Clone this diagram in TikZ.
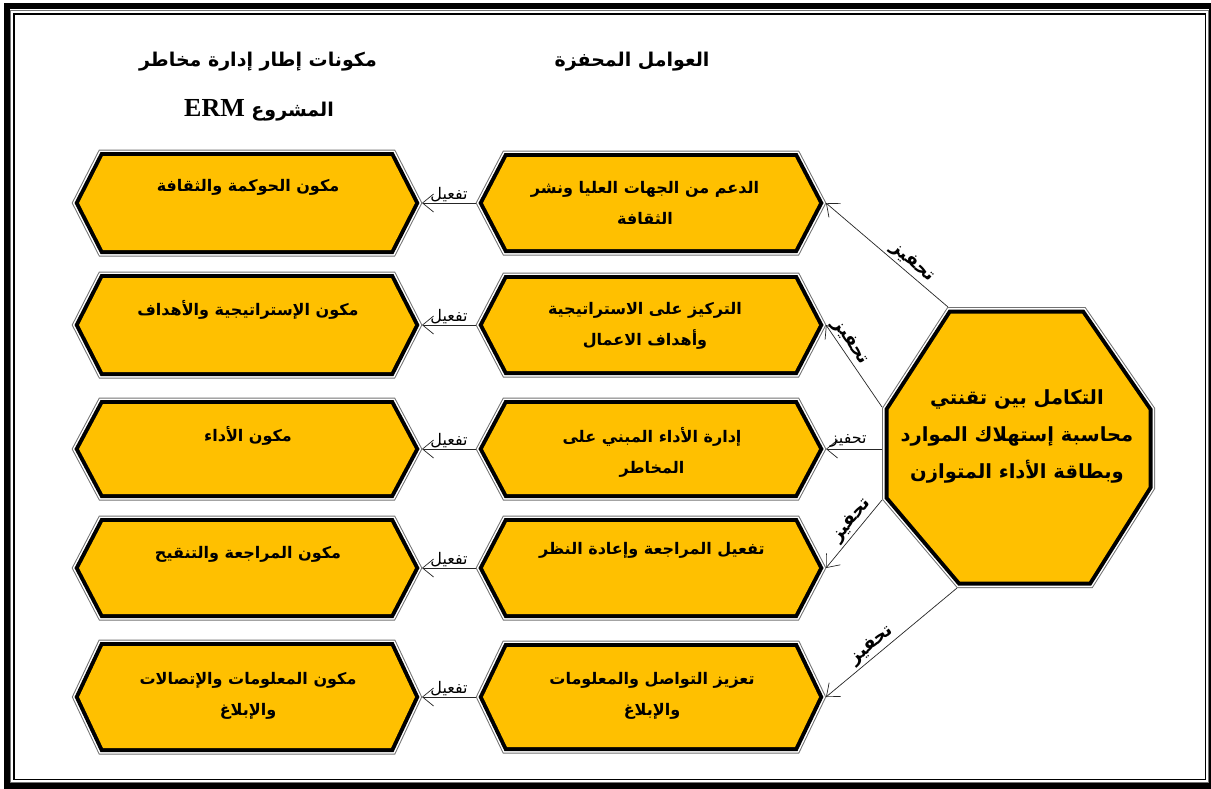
\documentclass[tikz,border=0pt]{standalone}
\usepackage{fontspec}
\usetikzlibrary{arrows.meta}
\TeXXeTstate=1
\newfontfamily\arabicfont[Script=Arabic]{DejaVu Sans}
\newfontfamily\latinfont{Liberation Serif}
\definecolor{gold}{RGB}{255,192,0}
\definecolor{rim}{RGB}{115,115,115}
\newcommand\artxt[1]{\beginR #1\endR}

% hexagon outline: centre x, centre y, half width to tip, half height, slant
\newcommand\hexpath[5]{(#1-#3,#2) -- (#1-#3+#5,#2-#4) -- (#1+#3-#5,#2-#4) -- (#1+#3,#2) -- (#1+#3-#5,#2+#4) -- (#1-#3+#5,#2+#4) -- cycle}
% framed gold hexagon with named tips: name, centre x, centre y, half height
\newcommand\hexbox[4]{%
  \path[rimgray]  \hexpath{#2}{#3}{168}{#4}{24};
  \path[rimwhite] \hexpath{#2}{#3}{168}{#4}{24};
  \path[rimblack] \hexpath{#2}{#3}{168}{#4}{24};
  \path[goldfill] \hexpath{#2}{#3}{168}{#4}{24};
  \coordinate (#1-e) at (#2+175,#3);
  \coordinate (#1-w) at (#2-175,#3);
}
\newcommand\octpath{(951,313.5) -- (1082,313.5) -- (1148.5,410) -- (1148.5,487) -- (1089,581.5) -- (960,581.5) -- (888.5,497) -- (888.5,410) -- cycle}

\tikzset{
  x=1pt, y=-1pt,
  rimgray/.style={draw=rim, line width=13pt, line join=miter},
  rimwhite/.style={draw=white, line width=11pt, line join=miter},
  rimblack/.style={draw=black, line width=8pt, line join=miter},
  goldfill/.style={fill=gold},
  boxtext/.style={font=\arabicfont\bfseries\fontsize{16}{31}\selectfont, align=center, text=black, inner sep=0pt},
  centertext/.style={font=\arabicfont\bfseries\fontsize{19.5}{37}\selectfont, align=center, text=black, inner sep=0pt},
  heading/.style={font=\arabicfont\bfseries\fontsize{19}{22}\selectfont, inner sep=0pt},
  link/.style={draw=black!85, line width=0.7pt, -{Straight Barb[length=11pt,width=18pt]}},
  actlabel/.style={font=\arabicfont\fontsize{16}{18}\selectfont, above, inner sep=1pt},
  motlabel/.style={font=\arabicfont\bfseries\fontsize{18}{20}\selectfont, sloped, above, inner sep=2pt},
  flatlabel/.style={font=\arabicfont\fontsize{16}{18}\selectfont, above, inner sep=1pt},
}

\begin{document}
\begin{tikzpicture}
\useasboundingbox (0,0) rectangle (1211,788);
\fill[white] (0,0) rectangle (1211,788);

% page frame
\draw[black, line width=6pt] (7,6) rectangle (1212,786);
\draw[rim, line width=1pt] (10.5,10.5) rectangle (1208.5,782.5);
\draw[black, line width=1.6pt] (14,14) rectangle (1205.5,779.5);

% column headings
\node[heading] (h1) at (258,62) {\artxt{مكونات إطار إدارة مخاطر}};
\node[heading] (h2) at (259,110) {\artxt{المشروع \beginL{\latinfont\bfseries\fontsize{26}{28}\selectfont ERM}\endL}};
\node[heading] (h3) at (632,62) {\artxt{العوامل المحفزة}};

% ERM components (left column)
\hexbox{l1}{247}{203}{47}
\hexbox{l2}{247}{325}{47}
\hexbox{l3}{247}{449}{45}
\hexbox{l4}{247}{568}{46}
\hexbox{l5}{247}{697}{51}

% driving factors (middle column)
\hexbox{m1}{651}{203}{46}
\hexbox{m2}{651}{325}{46}
\hexbox{m3}{651}{449}{45}
\hexbox{m4}{651}{568}{46}
\hexbox{m5}{651}{697}{50}

% integration octagon
\path[rimgray]  \octpath;
\path[rimwhite] \octpath;
\path[rimblack] \octpath;
\path[goldfill] \octpath;
\coordinate (o1) at (948,307);
\coordinate (o2) at (882,407);
\coordinate (o3) at (882,449);
\coordinate (o4) at (882,500);
\coordinate (o5) at (957,588);

% texts
\node[boxtext] (t-l1) at (248,187) {\artxt{مكون الحوكمة والثقافة}};
\node[boxtext] (t-l2) at (248,310) {\artxt{مكون الإستراتيجية والأهداف}};
\node[boxtext] (t-l3) at (248,436) {\artxt{مكون الأداء}};
\node[boxtext] (t-l4) at (248,554) {\artxt{مكون المراجعة والتنقيح}};
\node[boxtext] (t-l5) at (248,696) {\artxt{مكون المعلومات والإتصالات}\\\artxt{والإبلاغ}};

\node[boxtext] (t-m1) at (645,203) {\artxt{الدعم من الجهات العليا ونشر}\\\artxt{الثقافة}};
\node[boxtext] (t-m2) at (645,326) {\artxt{التركيز على الاستراتيجية}\\\artxt{وأهداف الاعمال}};
\node[boxtext] (t-m3) at (652,452) {\artxt{إدارة الأداء المبني على}\\\artxt{المخاطر}};
\node[boxtext] (t-m4) at (652,550) {\artxt{تفعيل المراجعة وإعادة النظر}};
\node[boxtext] (t-m5) at (652,696) {\artxt{تعزيز التواصل والمعلومات}\\\artxt{والإبلاغ}};

\node[centertext] (t-oct) at (1017,436) {\artxt{التكامل بين تقنتي}\\\artxt{محاسبة إستهلاك الموارد}\\\artxt{وبطاقة الأداء المتوازن}};

% octagon to driving factors
\draw[link] (o1) -- node[motlabel, pos=0.35] (lab1) {\artxt{تحفيز}} (m1-e);
\draw[link] (o2) -- node[motlabel, pos=0.72] (lab2) {\artxt{تحفيز}} (m2-e);
\draw[link] (o3) -- node[flatlabel, pos=0.6] (lab3) {\artxt{تحفيز}} (m3-e);
\draw[link] (o4) -- node[motlabel, pos=0.4] (lab4) {\artxt{تحفيز}} (m4-e);
\draw[link] (o5) -- node[motlabel, pos=0.6] (lab5) {\artxt{تحفيز}} (m5-e);

% driving factors to components
\draw[link] (m1-w) -- node[actlabel] (a1) {\artxt{تفعيل}} (l1-e);
\draw[link] (m2-w) -- node[actlabel] (a2) {\artxt{تفعيل}} (l2-e);
\draw[link] (m3-w) -- node[actlabel] (a3) {\artxt{تفعيل}} (l3-e);
\draw[link] (m4-w) -- node[actlabel] (a4) {\artxt{تفعيل}} (l4-e);
\draw[link] (m5-w) -- node[actlabel] (a5) {\artxt{تفعيل}} (l5-e);
\end{tikzpicture}
\end{document}
